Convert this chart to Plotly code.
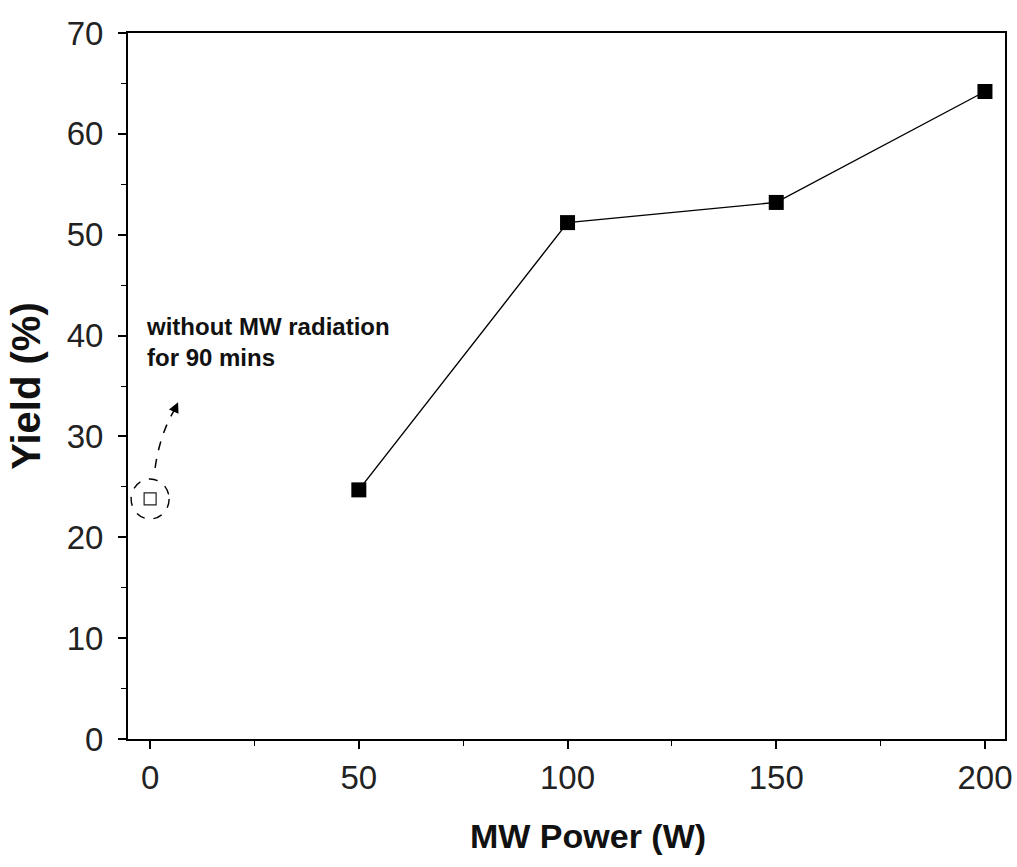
import plotly.graph_objects as go

# Yield vs microwave power
power_w = [50, 100, 150, 200]
yield_pct = [24.7, 51.2, 53.2, 64.2]

# Reference run without microwave radiation (90 min)
ref_power = [0]
ref_yield = [23.8]

x_ticks = [0, 50, 100, 150, 200]
y_ticks = [0, 10, 20, 30, 40, 50, 60, 70]

FONT = "Liberation Sans, Arial"

fig = go.Figure()

fig.add_trace(go.Scatter(
    x=power_w, y=yield_pct, mode="lines+markers",
    line=dict(color="black", width=1.4),
    marker=dict(symbol="square", size=15, color="black"),
    showlegend=False,
))

fig.add_trace(go.Scatter(
    x=ref_power, y=ref_yield, mode="markers",
    marker=dict(symbol="square-open", size=12, color="#222", line=dict(width=1.2)),
    showlegend=False,
))

# dashed ring around the reference point
fig.add_shape(
    type="circle", xref="x", yref="y",
    xsizemode="pixel", ysizemode="pixel",
    xanchor=ref_power[0], yanchor=ref_yield[0],
    x0=-19, x1=19, y0=-20, y1=20,
    line=dict(color="black", width=1.4, dash="dash"),
)

# curved dashed arrow towards the note
fig.add_shape(
    type="path", xref="x", yref="y",
    xsizemode="pixel", ysizemode="pixel",
    xanchor=ref_power[0], yanchor=ref_yield[0],
    path="M 5 31 Q 10 66 25 90",
    line=dict(color="black", width=1.5, dash="dash"),
)
fig.add_annotation(
    x=6.7, y=33.4, xref="x", yref="y",
    text="", showarrow=True, arrowhead=2, arrowsize=1.4, arrowwidth=1.5,
    arrowcolor="black", ax=-5, ay=11,
    standoff=0, startstandoff=0,
)

fig.add_annotation(
    x=-1.4, y=39.4, xref="x", yref="y",
    text="<b>without MW radiation<br>for 90 mins</b>",
    showarrow=False, xanchor="left", yanchor="middle", align="left",
    font=dict(family=FONT, size=24, color="#111"),
)

# x-axis title
fig.add_annotation(
    x=0.5245, y=-0.137, xref="paper", yref="paper",
    text="<b>MW Power (W)</b>", showarrow=False,
    xanchor="center", yanchor="middle",
    font=dict(family=FONT, size=34, color="#111"),
)

axis_common = dict(
    showline=True, linecolor="black", linewidth=2, mirror=True,
    ticks="outside", ticklen=8, tickwidth=1.5, tickcolor="black",
    showgrid=False, zeroline=False, automargin=False,
    tickfont=dict(family=FONT, size=33, color="#222"),
    minor=dict(ticks="outside", ticklen=5, tickwidth=1, tickcolor="black"),
)

fig.update_xaxes(
    range=[-5.3, 204.8], tickvals=x_ticks,
    minor_dtick=25,
    **axis_common,
)
fig.update_yaxes(
    range=[0, 70], tickvals=y_ticks,
    minor_dtick=5, ticklabelstandoff=8,
    title=dict(text="<b>Yield (%)</b>", standoff=14,
               font=dict(family=FONT, size=40, color="#111")),
    **axis_common,
)

fig.update_layout(
    width=1017, height=867,
    margin=dict(l=128, r=12, t=33, b=128),
    plot_bgcolor="white", paper_bgcolor="white",
)

fig.write_html("out.html")
